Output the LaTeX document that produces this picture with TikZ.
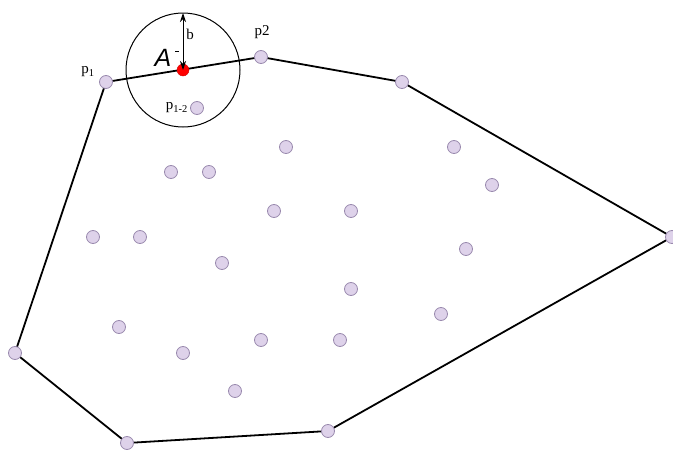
\documentclass[tikz,border=0pt]{standalone}
\usepackage{fontspec}
\setmainfont{Liberation Serif}
\setsansfont{Liberation Sans}
\usetikzlibrary{arrows.meta}
\begin{document}
\begin{tikzpicture}[x=1pt,y=-1pt,
  pt/.style={circle,draw=ptdraw,fill=ptfill,line width=0.8pt,minimum size=13pt,inner sep=0pt},
  hull/.style={line width=1.8pt,black},
  lbl/.style={font=\fontsize{15}{15}\selectfont,inner sep=0pt}]
\definecolor{ptfill}{HTML}{DED2EA}
\definecolor{ptdraw}{HTML}{9A8AAE}
\useasboundingbox (0,0) rectangle (673,450);
% hull vertices
\coordinate (h1) at (106,82);
\coordinate (h2) at (261,57);
\coordinate (h3) at (402,82);
\coordinate (h4) at (672,237);
\coordinate (h5) at (328,431);
\coordinate (h6) at (127,443);
\coordinate (h7) at (15,353);
\coordinate (A) at (183,70);
\draw[hull] (h1) -- (h2) -- (h3) -- (h4) -- (h5) -- (h6) -- (h7) -- cycle;
% circle
\draw[line width=1pt] (A) circle (57);
% hull points
\foreach \n in {h1,h2,h3,h4,h5,h6,h7}
  \node[pt] (p\n) at (\n) {};
\node[circle,fill=red,draw=red!80!black,minimum size=12pt,inner sep=0pt] (red) at (A) {};
\coordinate (top) at (183,13);
\draw[line width=1pt,{Stealth[length=9pt,width=6pt]}-{Stealth[length=9pt,width=6pt]}] (top) -- (red.center);
\node[lbl] (b) at (190,34) {b};
\node[font=\sffamily\itshape\fontsize{25}{25}\selectfont,inner sep=0pt] (Alab) at (163,58) {A};
\draw[line width=1pt] (175,51) -- (179,51);
\node[pt] (p12) at (197,108) {};
\node[lbl,anchor=east] (p12l) at (188,108) {p\textsubscript{1-2}};
\node[lbl] (p1l) at (88,72) {p\textsubscript{1}};
\node[lbl] (p2l) at (262,32) {p2};
% interior points
\foreach \i/\x/\y in {1/171/172,2/209/172,3/286/147,4/454/147,5/492/185,6/274/211,7/351/211,8/93/237,9/140/237,10/222/263,11/466/249,12/351/289,13/119/327,14/441/314,15/183/353,16/261/340,17/340/340,18/235/391}
  \node[pt] (q\i) at (\x,\y) {};
\end{tikzpicture}
\end{document}
